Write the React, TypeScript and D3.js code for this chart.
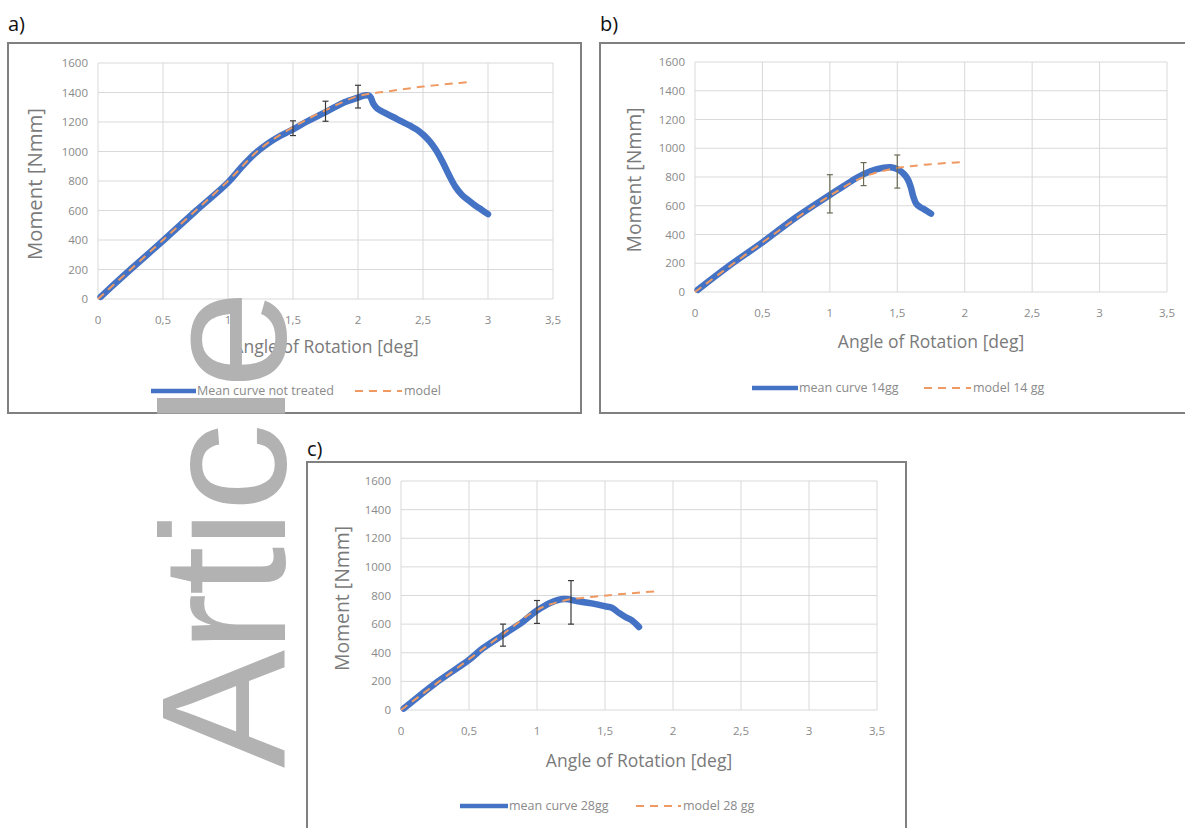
import React from "react";
import * as d3 from "d3";

// ---------- data ----------
const xTicks = [0, 0.5, 1, 1.5, 2, 2.5, 3, 3.5];
const yTicks = [0, 200, 400, 600, 800, 1000, 1200, 1400, 1600];

const meanA: [number, number][] = [
  [0.02, 15], [0.1, 80], [0.25, 200], [0.5, 395], [0.75, 595], [1.0, 790], [1.1, 890],
  [1.2, 980], [1.3, 1050], [1.4, 1105], [1.5, 1150], [1.6, 1200], [1.7, 1245], [1.8, 1290],
  [1.9, 1335], [2.0, 1365], [2.05, 1380], [2.09, 1375], [2.12, 1320], [2.15, 1290],
  [2.2, 1265], [2.3, 1220], [2.4, 1175], [2.45, 1150], [2.5, 1115], [2.55, 1070],
  [2.6, 1010], [2.65, 930], [2.7, 840], [2.75, 760], [2.8, 705], [2.85, 670], [2.9, 635],
  [2.95, 605], [3.0, 575],
];
const modelA: [number, number][] = [
  [0, 0], [0.5, 400], [1.0, 800], [1.25, 1020], [1.5, 1165], [1.75, 1280], [2.0, 1375],
  [2.25, 1410], [2.5, 1440], [2.75, 1462], [2.85, 1470],
];
const errXA = [1.5, 1.75, 2.0];
const errMeanA = [1158, 1273, 1372];
const errSizeA = [50, 68, 77];

const meanB: [number, number][] = [
  [0.02, 15], [0.25, 180], [0.5, 345], [0.75, 520], [1.0, 675], [1.1, 735], [1.2, 795],
  [1.3, 840], [1.4, 865], [1.45, 868], [1.5, 855], [1.55, 820], [1.58, 780], [1.6, 730],
  [1.62, 660], [1.64, 615], [1.67, 590], [1.7, 575], [1.75, 545],
];
const modelB: [number, number][] = [
  [0, 0], [0.5, 345], [1.0, 670], [1.25, 800], [1.45, 855], [1.6, 875], [1.8, 893], [2.0, 905],
];
const errXB = [1.0, 1.25, 1.5];
const errMeanB = [683, 820, 838];
const errSizeB = [133, 80, 115];

const meanC: [number, number][] = [
  [0.02, 10], [0.25, 185], [0.5, 350], [0.6, 430], [0.75, 525], [0.9, 620], [1.0, 695],
  [1.1, 750], [1.2, 775], [1.3, 760], [1.4, 745], [1.5, 725], [1.55, 715], [1.6, 680],
  [1.65, 650], [1.7, 625], [1.75, 580],
];
const modelC: [number, number][] = [
  [0, 0], [0.5, 355], [0.75, 530], [1.0, 700], [1.2, 765], [1.4, 790], [1.6, 808], [1.88, 830],
];
const errXC = [0.75, 1.0, 1.25];
const errMeanC = [523, 685, 752];
const errSizeC = [77, 80, 152];

const panelLabels = ["a)", "b)", "c)"];
const meanNames = ["Mean curve not treated", "mean curve 14gg", "mean curve 28gg"];
const modelNames = ["model", "model 14 gg", "model 28 gg"];
const xTitle = "Angle of Rotation [deg]";
const yTitle = "Moment [Nmm]";
const watermark = "Article";

// ---------- styles ----------
const FONT = "'Open Sans', 'DejaVu Sans', sans-serif";
const BLUE = "#4472C4";
const ORANGE = "#EE9A62";
const GRID = "#d9d9d9";
const TXT = "#8a8a8a";

type PanelProps = {
  label: string;
  frame: { x0: number; y0: number; x1: number; y1: number };
  labelPos: [number, number];
  plot: { x0: number; x1: number; y0: number; y1: number };
  mean: [number, number][];
  model: [number, number][];
  errX: number[];
  errMean: number[];
  errSize: number[];
  errColor: string;
  legend: { y: number; lineX: number; textX: number; dashX: number; text2X: number };
  meanName: string;
  modelName: string;
  xTitleY: number;
  yTitleX: number;
  yTitleLen: number;
};

function Panel(p: PanelProps) {
  const x = d3.scaleLinear().domain([0, 3.5]).range([p.plot.x0, p.plot.x1]);
  const y = d3.scaleLinear().domain([0, 1600]).range([p.plot.y0, p.plot.y1]);
  const line = d3
    .line<[number, number]>()
    .x((d) => x(d[0]))
    .y((d) => y(d[1]))
    .curve(d3.curveCatmullRom.alpha(0.5));
  const fmt = (v: number) => String(v).replace(".", ",");
  const cx = (p.plot.x0 + p.plot.x1) / 2;
  const cy = (p.plot.y0 + p.plot.y1) / 2 + 3;
  return (
    <g>
      <rect
        x={p.frame.x0}
        y={p.frame.y0}
        width={p.frame.x1 - p.frame.x0}
        height={p.frame.y1 - p.frame.y0}
        fill="#fff"
        stroke="#808080"
        strokeWidth={2}
      />
      <text x={p.labelPos[0]} y={p.labelPos[1]} fontFamily={FONT} fontSize={20} fill="#111">
        {p.label}
      </text>
      {yTicks.map((t) => (
        <line key={"h" + t} x1={p.plot.x0} x2={p.plot.x1} y1={y(t)} y2={y(t)} stroke={GRID} strokeWidth={1} />
      ))}
      {xTicks.map((t) => (
        <line key={"v" + t} x1={x(t)} x2={x(t)} y1={p.plot.y0} y2={p.plot.y1} stroke={GRID} strokeWidth={1} />
      ))}
      {yTicks.map((t) => (
        <text
          key={"yl" + t}
          x={p.plot.x0 - 10}
          y={y(t)}
          dy="0.35em"
          textAnchor="end"
          fontFamily={FONT}
          fontSize={11.5}
          fill={TXT}
        >
          {t}
        </text>
      ))}
      {xTicks.map((t) => (
        <text
          key={"xl" + t}
          x={x(t)}
          y={p.plot.y0 + 25}
          textAnchor="middle"
          fontFamily={FONT}
          fontSize={11.5}
          fill={TXT}
        >
          {fmt(t)}
        </text>
      ))}
      <text
        x={cx}
        y={p.xTitleY}
        textAnchor="middle"
        fontFamily={FONT}
        fontSize={17.5}
        fill="#7a7a7a"
      >
        {xTitle}
      </text>
      <text
        transform={`translate(${p.yTitleX},${cy}) rotate(-90)`}
        textAnchor="middle"
        fontFamily={FONT}
        fontSize={20}
        fill="#7a7a7a"
        textLength={p.yTitleLen}
        lengthAdjust="spacingAndGlyphs"
      >
        {yTitle}
      </text>
      <path d={line(p.mean) || ""} fill="none" stroke={BLUE} strokeWidth={6.5} strokeLinejoin="round" strokeLinecap="round" />
      <path d={line(p.model) || ""} fill="none" stroke={ORANGE} strokeWidth={2} strokeDasharray="8,6" />
      {p.errX.map((ex, i) => (
        <g key={"e" + i} stroke={p.errColor} strokeWidth={1.2}>
          <line x1={x(ex)} x2={x(ex)} y1={y(p.errMean[i] - p.errSize[i])} y2={y(p.errMean[i] + p.errSize[i])} />
          <line x1={x(ex) - 3} x2={x(ex) + 3} y1={y(p.errMean[i] - p.errSize[i])} y2={y(p.errMean[i] - p.errSize[i])} />
          <line x1={x(ex) - 3} x2={x(ex) + 3} y1={y(p.errMean[i] + p.errSize[i])} y2={y(p.errMean[i] + p.errSize[i])} />
        </g>
      ))}
      <line x1={p.legend.lineX} x2={p.legend.textX - 1} y1={p.legend.y} y2={p.legend.y} stroke={BLUE} strokeWidth={4.5} />
      <text x={p.legend.textX} y={p.legend.y} dy="0.35em" fontFamily={FONT} fontSize={12.5} fill={TXT}>
        {p.meanName}
      </text>
      <line
        x1={p.legend.dashX}
        x2={p.legend.text2X - 2}
        y1={p.legend.y}
        y2={p.legend.y}
        stroke={ORANGE}
        strokeWidth={2}
        strokeDasharray="8,6"
      />
      <text x={p.legend.text2X} y={p.legend.y} dy="0.35em" fontFamily={FONT} fontSize={12.5} fill={TXT}>
        {p.modelName}
      </text>
    </g>
  );
}

export default function App() {
  return (
    <svg
      width={1185}
      height={828}
      style={{ position: "fixed", left: 0, top: 0, background: "#fff" }}
    >
      <rect x={0} y={0} width={1185} height={828} fill="#fff" />
      <Panel
        label={panelLabels[0]}
        frame={{ x0: 8, y0: 43, x1: 581, y1: 413 }}
        labelPos={[8, 31]}
        plot={{ x0: 98, x1: 553, y0: 299, y1: 63 }}
        mean={meanA}
        model={modelA}
        errX={errXA}
        errMean={errMeanA}
        errSize={errSizeA}
        errColor="#3a3a3a"
        legend={{ y: 391, lineX: 151, textX: 197, dashX: 355, text2X: 404 }}
        meanName={meanNames[0]}
        modelName={modelNames[0]}
        xTitleY={353}
        yTitleX={42}
        yTitleLen={152}
      />
      <Panel
        label={panelLabels[1]}
        frame={{ x0: 600, y0: 43, x1: 1192, y1: 413 }}
        labelPos={[600, 31]}
        plot={{ x0: 695, x1: 1167, y0: 292, y1: 62 }}
        mean={meanB}
        model={modelB}
        errX={errXB}
        errMean={errMeanB}
        errSize={errSizeB}
        errColor="#6b6b55"
        legend={{ y: 388, lineX: 752, textX: 799, dashX: 924, text2X: 973 }}
        meanName={meanNames[1]}
        modelName={modelNames[1]}
        xTitleY={348}
        yTitleX={641}
        yTitleLen={145}
      />
      <Panel
        label={panelLabels[2]}
        frame={{ x0: 307, y0: 462, x1: 906, y1: 840 }}
        labelPos={[307, 456]}
        plot={{ x0: 401, x1: 877, y0: 710, y1: 481 }}
        mean={meanC}
        model={modelC}
        errX={errXC}
        errMean={errMeanC}
        errSize={errSizeC}
        errColor="#3a3a3a"
        legend={{ y: 806, lineX: 460, textX: 509, dashX: 636, text2X: 683 }}
        meanName={meanNames[2]}
        modelName={modelNames[2]}
        xTitleY={767}
        yTitleX={349}
        yTitleLen={145}
      />
      <text
        transform="translate(285,768) rotate(-90)"
        fontFamily="'Liberation Sans', Arial, sans-serif"
        fontSize={177}
        fill="#b2b2b2"
        textLength={478}
        lengthAdjust="spacing"
      >
        {watermark}
      </text>
    </svg>
  );
}
